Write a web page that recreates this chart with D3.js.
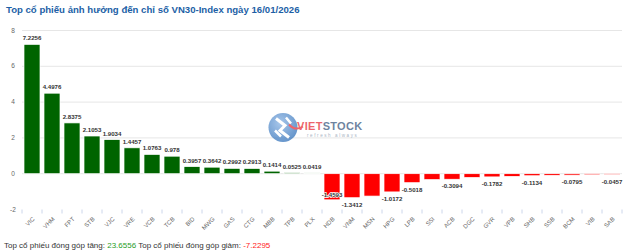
<!DOCTYPE html>
<html>
<head>
<meta charset="utf-8">
<script src="https://cdn.jsdelivr.net/npm/d3@7"></script>
<style>
  body { margin: 0; background: #fff; }
  svg { display: block; font-family: Arial, "Liberation Sans", sans-serif; }
</style>
</head>
<body>
<svg id="chart" width="624" height="252"></svg>
<script>
const categories = ["VIC", "VHM", "FPT", "STB", "VJC", "VRE", "VCB", "TCB", "BID", "MWG",
  "GAS", "CTG", "MBB", "TPB", "PLX", "HDB", "VNM", "MSN", "HPG", "LPB",
  "SSI", "ACB", "DGC", "GVR", "VPB", "SHB", "SSB", "BCM", "VIB", "SAB"];
const values = [7.2256, 4.4976, 2.8375, 2.1053, 1.9034, 1.4457, 1.0763, 0.978, 0.3957, 0.3642,
  0.2992, 0.2913, 0.1414, 0.0525, 0.0419, -1.4593, -1.3412, -1.25, -1.0172, -0.5018,
  -0.33, -0.3094, -0.21, -0.1782, -0.15, -0.1134, -0.09, -0.0795, -0.06, -0.0457];
// labels hidden in the original because they would collide
const hiddenLabels = ["MSN", "SSI", "DGC", "VPB", "SSB", "VIB"];
const yTicks = [-2, 0, 2, 4, 6, 8];
const titleText = "Top cổ phiếu ảnh hưởng đến chỉ số VN30-Index ngày 16/01/2026";
const totalUp = "23.6556";
const totalDown = "-7.2295";

const svg = d3.select("#chart");
const margin = { top: 30.5, right: 2, bottom: 42.5, left: 22 };
const width = 624 - margin.left - margin.right;
const height = 252 - margin.top - margin.bottom;

// Title
svg.append("text")
  .attr("x", 6).attr("y", 13)
  .attr("font-size", 9.6).attr("font-weight", "bold")
  .attr("fill", "#1d5fa6")
  .text(titleText);

const g = svg.append("g").attr("transform", `translate(${margin.left},${margin.top})`);

const x = d3.scaleBand().domain(categories).range([0, width]).paddingInner(0.2).paddingOuter(0.1);
const y = d3.scaleLinear().domain([-2, 8]).range([height, 0]);

// Grid lines
g.selectAll(".grid")
  .data(yTicks.filter(d => d > -2))
  .enter().append("line")
  .attr("x1", 0).attr("x2", width)
  .attr("y1", d => y(d)).attr("y2", d => y(d))
  .attr("stroke", "#e6e6e6").attr("stroke-width", 1);

// Y axis labels
g.selectAll(".ylab")
  .data(yTicks)
  .enter().append("text")
  .attr("x", -9).attr("y", d => y(d) + 2)
  .attr("text-anchor", "middle")
  .attr("font-size", 6.5).attr("fill", "#666")
  .text(d => d);

// Watermark logo
const logo = g.append("g").attr("opacity", 0.75).attr("transform", "translate(261,97)");
const grad = svg.append("defs").append("radialGradient").attr("id", "lg")
  .attr("cx", "40%").attr("cy", "35%").attr("r", "70%");
grad.append("stop").attr("offset", "0%").attr("stop-color", "#8ab4e4");
grad.append("stop").attr("offset", "100%").attr("stop-color", "#2f6fb8");
logo.append("circle").attr("r", 14.5).attr("fill", "url(#lg)");
logo.append("path").attr("d", "M-7,-9 L2,-2 L-3,3 L6,10").attr("fill", "none")
  .attr("stroke", "#fff").attr("stroke-width", 3);
logo.append("path").attr("d", "M-8,3 L-2,9 M3,-10 L8,-4").attr("fill", "none")
  .attr("stroke", "#fff").attr("stroke-width", 2.5);
logo.append("path").attr("d", "M6,-3 Q12,4 20,-1").attr("fill", "none")
  .attr("stroke", "#e8323a").attr("stroke-width", 2);
logo.append("text").attr("x", 14).attr("y", 2).attr("font-size", 11).attr("font-weight", "bold")
  .attr("letter-spacing", 0.3)
  .html('<tspan fill="#e8323a">VIET</tspan><tspan fill="#3d5a80">STOCK</tspan>');
logo.append("text").attr("x", 24).attr("y", 9).attr("font-size", 4.5).attr("fill", "#8a9ab0")
  .attr("letter-spacing", 1.6).text("refresh always");

// Bars
g.selectAll(".bar")
  .data(categories)
  .enter().append("rect")
  .attr("x", d => x(d))
  .attr("width", x.bandwidth())
  .attr("y", (d, i) => y(Math.max(0, values[i])))
  .attr("height", (d, i) => Math.abs(y(values[i]) - y(0)))
  .attr("fill", (d, i) => values[i] >= 0 ? "#006400" : "#ff0000")
  .attr("stroke", "#fff").attr("stroke-width", 0.7);

// Data labels
g.selectAll(".dlab")
  .data(categories.filter(c => !hiddenLabels.includes(c)))
  .enter().append("text")
  .attr("x", d => x(d) + x.bandwidth() / 2)
  .attr("y", d => {
    const v = values[categories.indexOf(d)];
    if (v >= 0) return y(v) - 4;
    const below = y(v) + 9;
    return below + 1 > height ? y(v) - 3 : below;
  })
  .attr("text-anchor", "middle")
  .attr("font-size", 6.1).attr("font-weight", "bold").attr("fill", "#333")
  .attr("stroke", "#fff").attr("stroke-width", 1.4).attr("paint-order", "stroke")
  .text(d => values[categories.indexOf(d)]);

// X axis ticks and labels
const xAxis = g.append("g").attr("transform", `translate(0,${height})`);
const bounds = categories.map(c => x(c) - x.step() * x.paddingInner() / 2).concat([width]);
xAxis.selectAll(".tick")
  .data(bounds)
  .enter().append("line")
  .attr("x1", d => d).attr("x2", d => d)
  .attr("y1", 0).attr("y2", 4)
  .attr("stroke", "#ccd6eb");
xAxis.selectAll(".xlab")
  .data(categories)
  .enter().append("text")
  .attr("transform", d => `translate(${x(d) + x.bandwidth() / 2 + 3},${10}) rotate(-45)`)
  .attr("text-anchor", "end")
  .attr("font-size", 6).attr("fill", "#666")
  .text(d => d);

// Footer summary
svg.append("text")
  .attr("x", 4).attr("y", 248)
  .attr("font-size", 8).attr("fill", "#333")
  .html(`Top cổ phiếu đóng góp tăng: <tspan fill="#1f9d1f">${totalUp}</tspan>  Top cổ phiếu đóng góp giảm: <tspan fill="#ff1a1a">${totalDown}</tspan>`);
</script>
</body>
</html>
